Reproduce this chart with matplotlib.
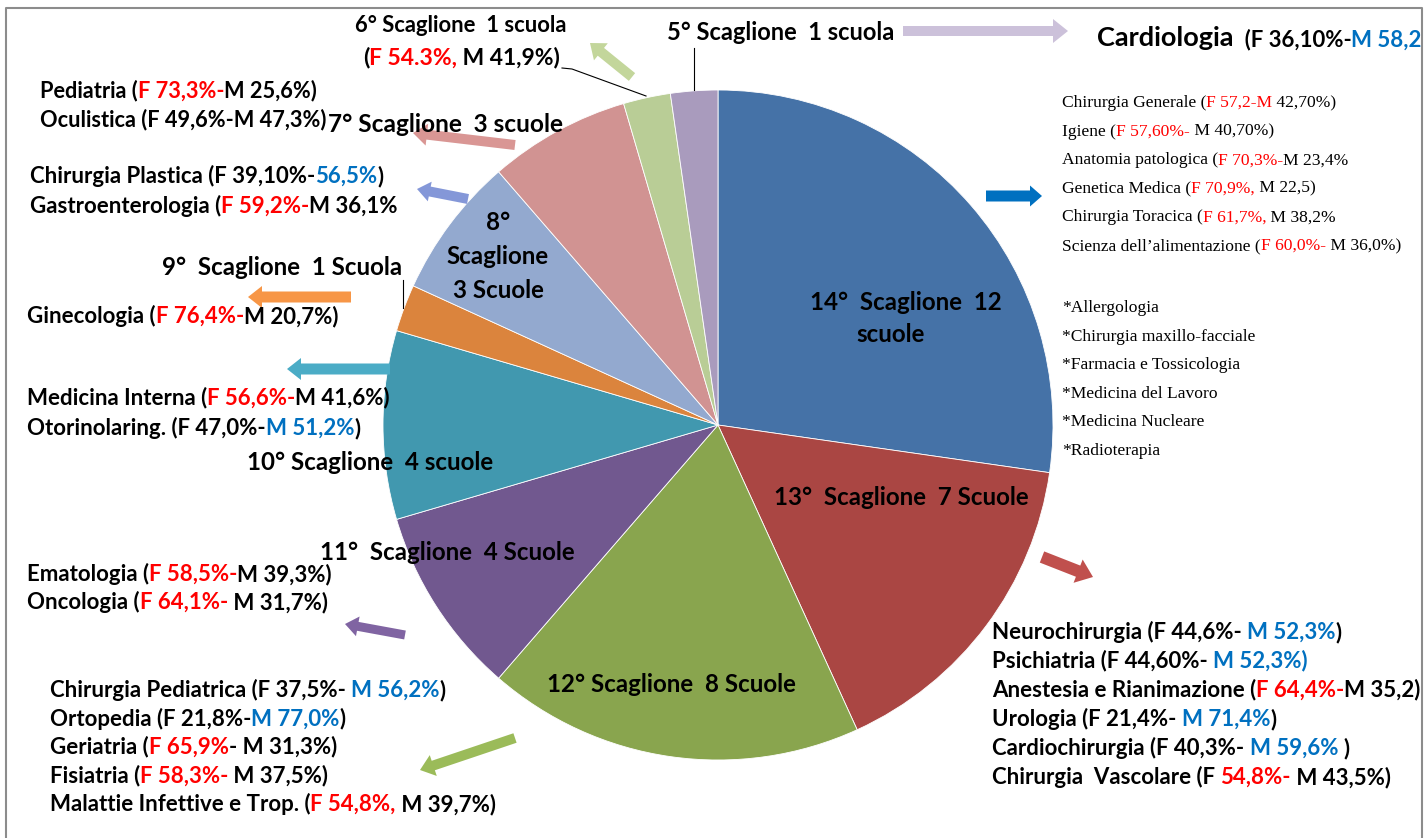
import matplotlib.pyplot as plt
from matplotlib.patches import FancyArrow, Rectangle

# scuole per scaglione, clockwise from 12 o'clock
scaglioni = ['14°', '13°', '12°', '11°', '10°', '9°', '8°', '7°', '6°', '5°']
scuole = [12, 7, 8, 4, 4, 1, 3, 3, 1, 1]
slice_colors = ['#4572A7', '#AA4643', '#89A54E', '#71588F', '#4198AF',
                '#DB843D', '#93A9CF', '#D19392', '#B9CD96', '#A99BBD']

# text pieces: 'k' plain, 'F' female majority (red), 'M' male majority (blue)
cardiologia = [('  (F 36,10%-', 'k'), ('M 58,2%)', 'M')]
scaglione_6 = [('(', 'k'), ('F 54.3%,', 'F'), (' M 41,9%)', 'k')]
group_7 = [
    [('Pediatria (', 'k'), ('F 73,3%-', 'F'), ('M 25,6%)', 'k')],
    [('Oculistica (F 49,6%-M 47,3%)', 'k')],
]
group_8 = [
    [('Chirurgia Plastica (F 39,10%-', 'k'), ('56,5%', 'M'), (')', 'k')],
    [('Gastroenterologia (', 'k'), ('F 59,2%-', 'F'), ('M 36,1%', 'k')],
]
group_9 = [[('Ginecologia (', 'k'), ('F 76,4%-', 'F'), ('M 20,7%)', 'k')]]
group_10 = [
    [('Medicina Interna (', 'k'), ('F 56,6%-', 'F'), ('M 41,6%)', 'k')],
    [('Otorinolaring. (F 47,0%-', 'k'), ('M 51,2%', 'M'), (')', 'k')],
]
group_11 = [
    [('Ematologia (', 'k'), ('F 58,5%-', 'F'), ('M 39,3%)', 'k')],
    [('Oncologia (', 'k'), ('F 64,1%-', 'F'), (' M 31,7%)', 'k')],
]
group_12 = [
    [('Chirurgia Pediatrica (F 37,5%- ', 'k'), ('M 56,2%', 'M'), (')', 'k')],
    [('Ortopedia (F 21,8%-', 'k'), ('M 77,0%', 'M'), (')', 'k')],
    [('Geriatria (', 'k'), ('F 65,9%', 'F'), ('- M 31,3%)', 'k')],
    [('Fisiatria (', 'k'), ('F 58,3%-', 'F'), (' M 37,5%)', 'k')],
    [('Malattie Infettive e Trop. (', 'k'), ('F 54,8%,', 'F'), (' M 39,7%)', 'k')],
]
group_13 = [
    [('Neurochirurgia (F 44,6%- ', 'k'), ('M 52,3%', 'M'), (')', 'k')],
    [('Psichiatria (F 44,60%- ', 'k'), ('M 52,3%)', 'M')],
    [('Anestesia e Rianimazione (', 'k'), ('F 64,4%-', 'F'), ('M 35,2)', 'k')],
    [('Urologia (F 21,4%- ', 'k'), ('M 71,4%', 'M'), (')', 'k')],
    [('Cardiochirurgia (F 40,3%- ', 'k'), ('M 59,6% ', 'M'), (')', 'k')],
    [('Chirurgia  Vascolare (F ', 'k'), ('54,8%-', 'F'), (' M 43,5%)', 'k')],
]
group_14 = [
    [('Chirurgia Generale (', 'k'), ('F 57,2-M', 'F'), (' 42,70%)', 'k')],
    [('Igiene (', 'k'), ('F 57,60%-', 'F'), (' M 40,70%)', 'k')],
    [('Anatomia patologica (', 'k'), ('F 70,3%-', 'F'), ('M 23,4%', 'k')],
    [('Genetica Medica (', 'k'), ('F 70,9%,', 'F'), (' M 22,5)', 'k')],
    [('Chirurgia Toracica (', 'k'), ('F 61,7%,', 'F'), (' M 38,2%', 'k')],
    [('Scienza dell\u2019alimentazione (', 'k'), ('F 60,0%-', 'F'), (' M 36,0%)', 'k')],
]
group_14_other = ['*Allergologia', '*Chirurgia maxillo-facciale', '*Farmacia e Tossicologia',
                  '*Medicina del Lavoro', '*Medicina Nucleare', '*Radioterapia']

tone = {'k': 'black', 'F': '#FF0000', 'M': '#0070C0'}
SANS = 'Lato'
SERIF = 'Liberation Serif'

fig = plt.figure(figsize=(14.28, 8.38), dpi=100)
ax = fig.add_axes([0, 0, 1, 1])

# y axis is flipped below, so angles run clockwise on screen
ax.pie(scuole, colors=slice_colors, startangle=270, counterclock=True,
       center=(718, 425), radius=335,
       wedgeprops=dict(edgecolor='white', linewidth=0.6))
ax.set_xlim(0, 1428)
ax.set_ylim(838, 0)
ax.set_aspect('equal')
ax.axis('off')


def rich_line(x, y, parts, size=16, family=SANS, weight='bold'):
    kw = dict(fontsize=size, family=family, fontweight=weight)
    t = ax.text(x, y, parts[0][0], color=tone[parts[0][1]], ha='left', va='center', **kw)
    for s, c in parts[1:]:
        t = ax.annotate(s, xy=(1, 0), xycoords=t, ha='left', va='bottom',
                        color=tone[c], **kw)
    return t


def block(x, y0, lines, step=29, **kw):
    for i, parts in enumerate(lines):
        rich_line(x, y0 + i * step, parts, **kw)


def arrow(x0, y0, x1, y1, color, w=10, hw=22, hl=14):
    ax.add_patch(FancyArrow(x0, y0, x1 - x0, y1 - y0, width=w, head_width=hw,
                            head_length=hl, length_includes_head=True,
                            color=color, lw=0))


def label(x, y, s, size=17.4, ha='left'):
    ax.text(x, y, s, ha=ha, va='center', fontsize=size, family=SANS,
            fontweight='bold', color='black')


# labels inside / next to the slices
label(906, 302, f'{scaglioni[0]}  Scaglione  {scuole[0]}', ha='center')
label(891, 334, 'scuole', ha='center')
label(774, 497, f'{scaglioni[1]}  Scaglione  {scuole[1]} Scuole')
label(547, 684, f'{scaglioni[2]} Scaglione  {scuole[2]} Scuole')
label(320, 552, f'{scaglioni[3]}  Scaglione  {scuole[3]} Scuole')
label(247, 462, f'{scaglioni[4]} Scaglione  {scuole[4]} scuole')
label(162, 267, f'{scaglioni[5]}  Scaglione  {scuole[5]} Scuola')
label(498, 222, scaglioni[6], ha='center')
label(498, 256, 'Scaglione', ha='center')
label(498, 290, f'{scuole[6]} Scuole', ha='center')
label(328, 124, f'{scaglioni[7]} Scaglione  {scuole[7]} scuole', size=17.6)
label(355, 26, f'{scaglioni[8]} Scaglione  {scuole[8]} scuola', size=15.8)
label(667, 32, f'{scaglioni[9]} Scaglione  {scuole[9]} scuola', size=17)

# leader lines
ax.plot([694, 694], [48, 90], color='black', lw=0.8)
ax.plot([562, 572, 646], [68, 69, 96], color='black', lw=0.8)
ax.plot([403, 403], [280, 308], color='black', lw=0.8)

# specialty lists
t = ax.text(1097, 38, 'Cardiologia', ha='left', va='center', fontsize=19.5,
            family=SANS, fontweight='bold', color='black')
for s, c in cardiologia:
    t = ax.annotate(s, xy=(1, 0), xycoords=t, ha='left', va='bottom', color=tone[c],
                    fontsize=16, family=SANS, fontweight='bold')
rich_line(363, 58, scaglione_6, size=16.5)
block(40, 91, group_7, size=15.7)
block(30, 176, group_8, step=30)
block(27, 316, group_9)
block(27, 398, group_10, step=30)
block(27, 574, group_11, step=28)
block(50, 690, group_12, step=28.5)
block(992, 632, group_13, step=29)
block(1062, 103, group_14, step=28.6, size=12.6, family=SERIF, weight='normal')
for i, s in enumerate(group_14_other):
    ax.text(1062, 308 + i * 28.6, s, ha='left', va='center', fontsize=12.6,
            family=SERIF, color='black')

# arrows
arrow(903, 31, 1068, 31, '#CCC1DA', w=10, hw=24, hl=15)
arrow(632, 77, 590, 43, '#C3D69B', w=10, hw=22, hl=14)
arrow(515, 145, 413, 133, '#D99694', w=10, hw=22, hl=14)
arrow(468, 199, 417, 189, '#8497D8', w=10, hw=20, hl=13)
arrow(351, 297, 248, 297, '#F79646', w=11, hw=22, hl=14)
arrow(390, 369, 287, 369, '#4BACC6', w=11, hw=22, hl=14)
arrow(405, 635, 345, 624, '#8064A2', w=9, hw=20, hl=13)
arrow(515, 738, 420, 770, '#9BBB59', w=10, hw=22, hl=14)
arrow(1042, 557, 1093, 577, '#C0504D', w=12, hw=25, hl=16)
arrow(986, 196, 1042, 196, '#0070C0', w=11, hw=21, hl=12)

# frame (open at the bottom), text is cut at its right side like the original
ax.add_patch(Rectangle((1423, 0), 10, 838, color='white', zorder=5))
ax.plot([6, 6, 1422, 1422], [838, 8, 8, 838], color='#8C8C8C', lw=1.5, zorder=6)

fig.savefig('out.png', dpi=100)
